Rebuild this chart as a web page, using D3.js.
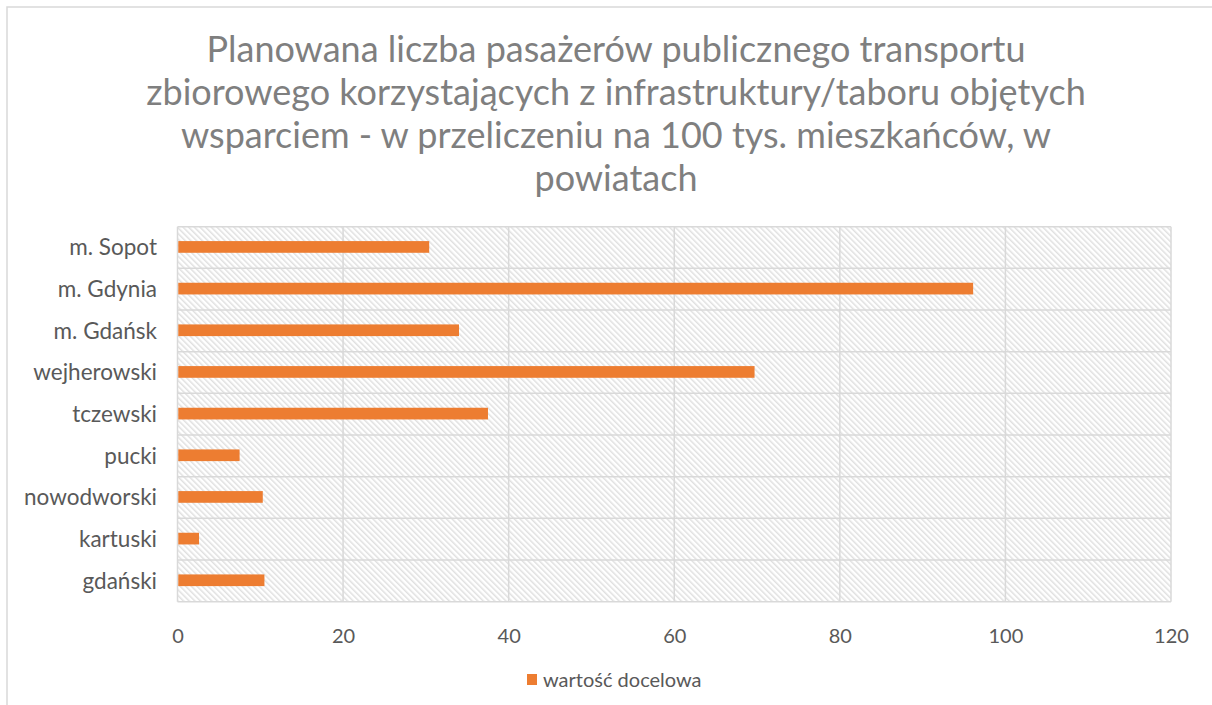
<!DOCTYPE html>
<html>
<head>
<meta charset="utf-8">
<script src="https://cdn.jsdelivr.net/npm/d3@7"></script>
<style>
  html, body { margin: 0; padding: 0; background: #fff; }
  svg { display: block; font-family: Lato, "Open Sans", sans-serif; }
</style>
</head>
<body>
<svg id="chart" width="1212" height="705"></svg>
<script>
// Powiaty listed top to bottom as they appear on the chart
const categories = ["m. Sopot", "m. Gdynia", "m. Gdańsk", "wejherowski", "tczewski", "pucki", "nowodworski", "kartuski", "gdański"];
const targetValues = [30.4, 96.1, 34.0, 69.7, 37.5, 7.5, 10.3, 2.6, 10.5];
const xTicks = [0, 20, 40, 60, 80, 100, 120];
const titleLines = [
  "Planowana liczba pasażerów publicznego transportu",
  "zbiorowego korzystających z infrastruktury/taboru objętych",
  "wsparciem - w przeliczeniu na 100 tys. mieszkańców, w",
  "powiatach"
];
const seriesName = "wartość docelowa";

const svg = d3.select("#chart");
const grid = "#d9d9d9";
const textColor = "#595959";
const barColor = "#ed7d31";

// hatched plot background (downward diagonal)
const defs = svg.append("defs");
const pat = defs.append("pattern")
  .attr("id", "hatch")
  .attr("patternUnits", "userSpaceOnUse")
  .attr("width", 4).attr("height", 4)
  .attr("patternTransform", "rotate(-45)");
pat.append("rect").attr("width", 4).attr("height", 4).attr("fill", "#fff");
pat.append("rect").attr("x", 0).attr("width", 1.5).attr("height", 4).attr("fill", "#e0e0e0");

// outer chart frame
svg.append("rect")
  .attr("x", 7).attr("y", 7).attr("width", 1230).attr("height", 720)
  .attr("fill", "none").attr("stroke", grid).attr("stroke-width", 1.5);

// title
svg.append("text")
  .attr("text-anchor", "middle")
  .attr("fill", "#7f7f7f")
  .attr("font-size", 36)
  .selectAll("tspan").data(titleLines).join("tspan")
  .attr("x", 616)
  .attr("y", (d, i) => 62 + i * 43)
  .text(d => d);

const plot = { left: 177.5, right: 1171, top: 226.7, bottom: 601.7 };

const x = d3.scaleLinear().domain([0, 120]).range([plot.left, plot.right]);
const y = d3.scaleBand().domain(categories).range([plot.top, plot.bottom]);

svg.append("rect")
  .attr("x", plot.left).attr("y", plot.top)
  .attr("width", plot.right - plot.left).attr("height", plot.bottom - plot.top)
  .attr("fill", "url(#hatch)");

// vertical gridlines
svg.append("g").selectAll("line").data(xTicks).join("line")
  .attr("x1", d => x(d)).attr("x2", d => x(d))
  .attr("y1", plot.top).attr("y2", plot.bottom)
  .attr("stroke", grid).attr("stroke-width", 1.5);

// horizontal band boundaries
const bounds = categories.map(c => y(c)).concat([plot.bottom]);
svg.append("g").selectAll("line").data(bounds).join("line")
  .attr("x1", plot.left).attr("x2", plot.right)
  .attr("y1", d => d).attr("y2", d => d)
  .attr("stroke", grid).attr("stroke-width", 1.5);

// bars
const barH = 11.7;
svg.append("g").selectAll("rect").data(categories).join("rect")
  .attr("x", x(0) + 0.8)
  .attr("y", c => y(c) + y.bandwidth() / 2 - barH / 2 - 0.6)
  .attr("width", (c, i) => x(targetValues[i]) - x(0) - 0.8)
  .attr("height", barH)
  .attr("fill", barColor);

// category labels
svg.append("g").selectAll("text").data(categories).join("text")
  .attr("x", 157)
  .attr("y", c => y(c) + y.bandwidth() / 2)
  .attr("dy", "0.35em")
  .attr("text-anchor", "end")
  .attr("font-size", 22.5)
  .attr("fill", textColor)
  .text(c => c);

// x axis tick labels
const xAxis = d3.axisBottom(x).tickValues(xTicks).tickSize(0).tickPadding(0);
const gx = svg.append("g").attr("transform", `translate(0,${plot.bottom})`).call(xAxis);
gx.select(".domain").remove();
gx.selectAll("text")
  .attr("y", 34)
  .attr("dy", "0.35em")
  .attr("font-size", 20)
  .attr("font-family", "Lato, sans-serif")
  .attr("fill", textColor);

// legend
const lg = svg.append("g").attr("transform", "translate(527,674)");
lg.append("rect").attr("width", 10).attr("height", 11).attr("fill", barColor);
lg.append("text")
  .attr("x", 16).attr("y", 5.5).attr("dy", "0.35em")
  .attr("font-size", 20).attr("fill", textColor)
  .text(seriesName);
</script>
</body>
</html>
